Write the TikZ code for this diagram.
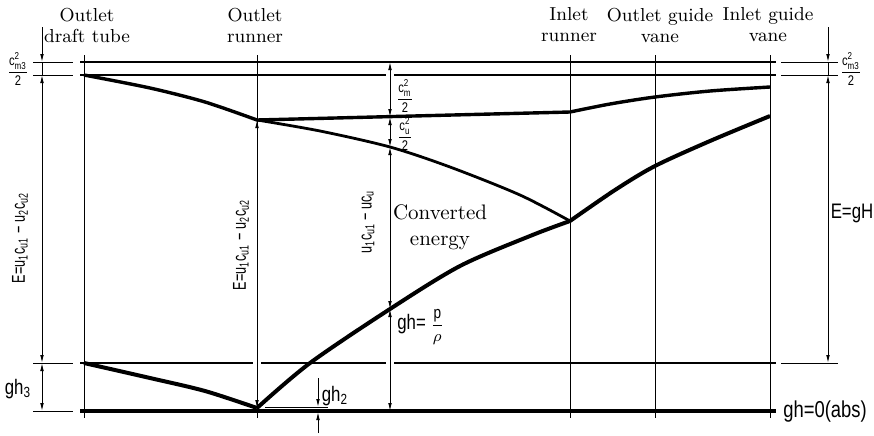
\documentclass[tikz,border=0pt]{standalone}
\usepackage{fontspec}
\usepackage{amsmath}
\usetikzlibrary{arrows.meta}
\newfontfamily\isofont[FakeStretch=0.8]{Liberation Sans}
\newfontfamily\narrowfont[FakeStretch=0.68]{Liberation Sans}
\newcommand{\is}[1]{\text{\isofont #1}}

\begin{document}
\begin{tikzpicture}[x=0.5pt,y=-0.5pt,
    >={Latex[length=4pt,width=1.8pt]},
    thinline/.style={line width=0.45pt},
    level/.style={line width=1.4pt},
    curve/.style={line width=1.7pt,line join=round},
    head/.style={font=\fontsize{9.4}{10.5}\selectfont,align=center},
    iso/.style={font=\fontsize{10.5}{12}\isofont,inner sep=1pt},
    rot/.style={font=\fontsize{9.3}{10}\narrowfont,inner sep=1pt,rotate=90},
    frac/.style={font=\fontsize{7}{8}\isofont,inner sep=0pt}]
    \useasboundingbox (0,0) rectangle (874,435);
    % stations and headings
    \foreach \x/\hx/\nm/\txt in {84/87/dt/{Outlet\\draft tube},257/255/ro/{Outlet\\runner},
        570/569/ri/{Inlet\\runner},655/660/go/{Outlet guide\\vane},770/768/gi/{Inlet guide\\vane}} {
        \draw[thinline] (\x,55) -- (\x,418);
        \node[head] (hd\nm) at (\hx,25) {\txt};
    }
    % levels
    \draw[level] (80,62) -- (776,62);
    \draw[level] (80,75) -- (386,75) (394,75) -- (776,75);
    \draw[level] (80,363) -- (253,363) (261,363) -- (386,363) (394,363) -- (776,363);
    \draw[line width=2pt] (80,411) -- (776,411);
    \foreach \y in {62,75,363,411} {
        \draw[thinline] (33,\y) -- (73,\y);
    }
    \foreach \y in {62,75,363} {
        \draw[thinline] (781,\y) -- (838,\y);
    }
    % energy lines
    \draw[curve] plot[smooth,tension=0.5] coordinates {(84,75) (150,88) (205,102) (257,120)}
        -- (570,112) plot[smooth,tension=0.5] coordinates {(570,112) (610,104) (655,97) (710,91) (770,87)};
    \draw[curve,line width=1.4pt] plot[smooth,tension=0.5] coordinates {(257,120) (320,131) (390,147) (450,167) (520,195) (570,221)};
    \draw[curve,line width=2pt] plot[smooth,tension=0.5] coordinates {(84,363) (150,378) (205,391) (257,408)}
        plot[smooth,tension=0.5] coordinates {(257,408) (310,363) (390,309) (460,266) (530,236) (570,221)}
        plot[smooth,tension=0.5] coordinates {(570,221) (615,190) (655,166) (710,141) (770,116)};
    % left dimensions
    \coordinate (L0) at (42,27);
    \coordinate (L1) at (42,62);
    \coordinate (L2) at (42,75);
    \coordinate (L3) at (42,363);
    \coordinate (L4) at (42,411);
    \draw[thinline,->] (L0) -- (L1);
    \draw[thinline] (L1) -- (L2);
    \draw[thinline,<->] (L2) -- (L3);
    \draw[thinline,<->] (L3) -- (L4);
    % right dimensions
    \coordinate (R0) at (828,27);
    \coordinate (R1) at (828,62);
    \coordinate (R2) at (828,75);
    \coordinate (R3) at (828,363);
    \draw[thinline,->] (R0) -- (R1);
    \draw[thinline] (R1) -- (R2);
    \draw[thinline,<->] (R2) -- (R3);
    % runner dimensions
    \coordinate (M0) at (390,62);
    \coordinate (M1) at (390,117);
    \coordinate (M2) at (390,147);
    \coordinate (M3) at (390,309);
    \coordinate (M4) at (390,411);
    \draw[thinline,<->] (M0) -- (M1);
    \draw[thinline,<->] (M1) -- (M2);
    \draw[thinline,<->] (M2) -- (M3);
    \draw[thinline,<->] (M3) -- (M4);
    \coordinate (E0) at (257,120);
    \coordinate (E1) at (257,408);
    \draw[thinline,<->] (E0) -- (E1);
    % gh2
    \coordinate (G0) at (318,378);
    \coordinate (G1) at (318,407);
    \coordinate (G2) at (318,412);
    \coordinate (G3) at (318,433);
    \draw[thinline] (265,407) -- (328,407);
    \draw[thinline,->] (G0) -- (G1);
    \draw[thinline,->] (G3) -- (G2);
    % labels
    \node[frac] (cmL) at (18,69) {$\dfrac{\is{c}^{\is{2}}_{\is{m3}}}{\is{2}}$};
    \node[frac] (cmR) at (851,69) {$\dfrac{\is{c}^{\is{2}}_{\is{m3}}}{\is{2}}$};
    \node[frac] (cm) at (405,96) {$\dfrac{\is{c}^{\is{2}}_{\is{m}}}{\is{2}}$};
    \node[frac] (cu) at (405,134) {$\dfrac{\is{c}^{\is{2}}_{\is{u}}}{\is{2}}$};
    \node[rot] (eL) at (20,238) {E=u\textsubscript{1}c\textsubscript{u1} − u\textsubscript{2}c\textsubscript{u2}};
    \node[rot] (eM) at (241,245) {E=u\textsubscript{1}c\textsubscript{u1} − u\textsubscript{2}c\textsubscript{u2}};
    \node[rot] (uM) at (368,222) {u\textsubscript{1}c\textsubscript{u1} − uc\textsubscript{u}};
    \node[iso] (egh) at (852,213) {E=gH};
    \node[iso] (gh3) at (18,389) {gh\textsubscript{3}};
    \node[iso] (gh2) at (335,396) {gh\textsubscript{2}};
    \node[iso,anchor=west,font=\fontsize{11.5}{12}\isofont] (gh0) at (781,412) {gh=0(abs)};
    \node[iso,anchor=west] (ghp) at (395,327) {gh= \fontsize{8.5}{10}\selectfont$\dfrac{\is{p}}{\rho}$};
    \node[head,font=\fontsize{10.5}{13}\selectfont] (conv) at (440,227) {Converted\\energy};
\end{tikzpicture}
\end{document}
